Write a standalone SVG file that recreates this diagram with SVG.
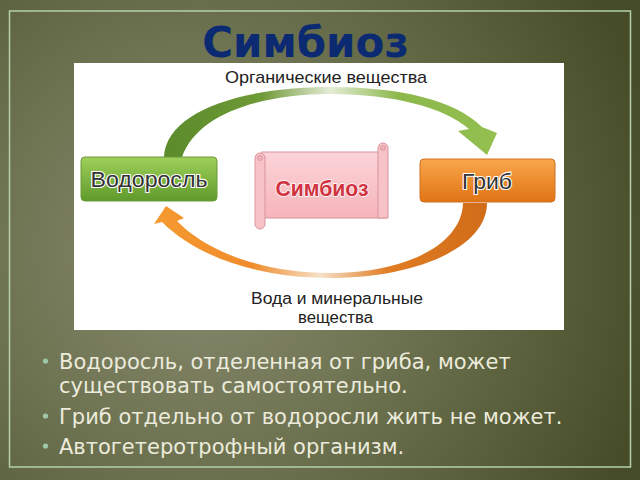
<svg xmlns="http://www.w3.org/2000/svg" width="640" height="480" viewBox="0 0 640 480">
<defs>
<radialGradient id="bg" cx="200" cy="250" r="470" gradientUnits="userSpaceOnUse">
<stop offset="0" stop-color="#8a8d72"/>
<stop offset="0.45" stop-color="#6d7250"/>
<stop offset="1" stop-color="#474c28"/>
</radialGradient>
<linearGradient id="gArrow" x1="160" y1="0" x2="500" y2="0" gradientUnits="userSpaceOnUse">
<stop offset="0" stop-color="#5a8a2a"/>
<stop offset="0.3" stop-color="#6f9a38"/>
<stop offset="0.5" stop-color="#e4ecd6"/>
<stop offset="0.7" stop-color="#8cb84c"/>
<stop offset="1" stop-color="#94c050"/>
</linearGradient>
<linearGradient id="oArrow" x1="490" y1="0" x2="150" y2="0" gradientUnits="userSpaceOnUse">
<stop offset="0" stop-color="#d06c18"/>
<stop offset="0.3" stop-color="#e07c22"/>
<stop offset="0.5" stop-color="#f6e0c8"/>
<stop offset="0.7" stop-color="#f08c2c"/>
<stop offset="1" stop-color="#f59a30"/>
</linearGradient>
<linearGradient id="gBox" x1="0" y1="0" x2="0" y2="1">
<stop offset="0" stop-color="#9fd05a"/>
<stop offset="1" stop-color="#5f9a2c"/>
</linearGradient>
<linearGradient id="oBox" x1="0" y1="0" x2="0" y2="1">
<stop offset="0" stop-color="#f9a64c"/>
<stop offset="1" stop-color="#e07414"/>
</linearGradient>
<linearGradient id="pink" x1="0" y1="0" x2="0" y2="1">
<stop offset="0" stop-color="#fbd4d8"/>
<stop offset="1" stop-color="#f6b4bb"/>
</linearGradient>
<style>
.lbl{font-family:"Liberation Sans",Arial,sans-serif;fill:#222;}
.box{font-family:"Liberation Sans",Arial,sans-serif;font-size:22px;fill:#333333;stroke:#ffffff;stroke-width:2.2px;paint-order:stroke;text-anchor:middle;}
.bul{font-family:"DejaVu Sans",sans-serif;font-size:21px;fill:#ecebdc;}
.dot{fill:#9ec8a8;}
</style>
</defs>
<rect x="0" y="0" width="640" height="480" fill="url(#bg)"/>
<rect x="9.5" y="11" width="621" height="456" fill="none" stroke="#b4d0ac" stroke-width="1.5"/>
<text x="305.5" y="57" font-family="DejaVu Sans, sans-serif" font-weight="bold" font-size="42" fill="#0b2a72" text-anchor="middle">Симбиоз</text>
<rect x="74" y="63" width="490" height="267" fill="#ffffff"/>
<g id="connectors">
<path d="M164,157 C166,112 240,87 330,87 C400,87 455,100 482,127 L497,133 L487,155 L458,131 L469,129 C445,108 395,94 330,94 C265,94 198,112 182,157 Z" fill="url(#gArrow)"/>
<path d="M487,203 C487,248 415,278 330,278 C255,278 195,255 162,222 L154,224 L166,206 L184,218 L177,221 C205,250 260,273 330,273 C405,273 462,245 463,203 Z" fill="url(#oArrow)"/>
</g>
<g id="label-top"><text class="lbl" x="326" y="83" font-size="17" text-anchor="middle" textLength="202" lengthAdjust="spacingAndGlyphs">Органические вещества</text></g>
<g id="label-bottom">
<text class="lbl" x="337" y="304" font-size="16" text-anchor="middle" textLength="172" lengthAdjust="spacingAndGlyphs">Вода и минеральные</text>
<text class="lbl" x="335.5" y="323" font-size="16" text-anchor="middle" textLength="75" lengthAdjust="spacingAndGlyphs">вещества</text>
</g>
<g id="node-algae">
<rect x="81" y="157" width="136" height="44" rx="4" fill="url(#gBox)" stroke="#6a9a38" stroke-width="1"/>
<text class="box" x="149" y="187" textLength="117" lengthAdjust="spacingAndGlyphs">Водоросль</text>
</g>
<g id="node-fungus">
<rect x="420" y="159" width="135" height="43" rx="4" fill="url(#oBox)" stroke="#d07020" stroke-width="1"/>
<text class="box" x="487" y="189" textLength="50" lengthAdjust="spacingAndGlyphs">Гриб</text>
</g>
<g id="node-symbiosis">
<rect x="262" y="152" width="124" height="66" fill="url(#pink)" stroke="#d8949c" stroke-width="1"/>
<path d="M378,218 L378,148 A5,5 0 0 1 388,148 L388,218 Z" fill="#f7c2c8" stroke="#d8949c" stroke-width="1"/>
<circle cx="383" cy="148" r="2.5" fill="#f2b0b8" stroke="#d8949c" stroke-width="0.8"/>
<path d="M255,158 A5,5 0 0 1 265,158 L265,224 A5,5 0 0 1 255,224 Z" fill="#f7c2c8" stroke="#d8949c" stroke-width="1"/>
<circle cx="260" cy="158" r="2.5" fill="#f2b0b8" stroke="#d8949c" stroke-width="0.8"/>
<text x="322" y="196" font-family="Liberation Sans, Arial, sans-serif" font-weight="bold" font-size="22" fill="#d0323f" stroke="#ffffff" stroke-width="1.5" paint-order="stroke" text-anchor="middle" textLength="93" lengthAdjust="spacingAndGlyphs">Симбиоз</text>
</g>
<g id="bullets">
<circle class="dot" cx="45.5" cy="361" r="2.6"/>
<text class="bul" x="59" y="369">Водоросль, отделенная от гриба, может</text>
<text class="bul" x="59" y="393">существовать самостоятельно.</text>
<circle class="dot" cx="45.5" cy="416" r="2.6"/>
<text class="bul" x="59" y="424">Гриб отдельно от водоросли жить не может.</text>
<circle class="dot" cx="45.5" cy="446" r="2.6"/>
<text class="bul" x="59" y="454">Автогетеротрофный организм.</text>
</g>
</svg>
